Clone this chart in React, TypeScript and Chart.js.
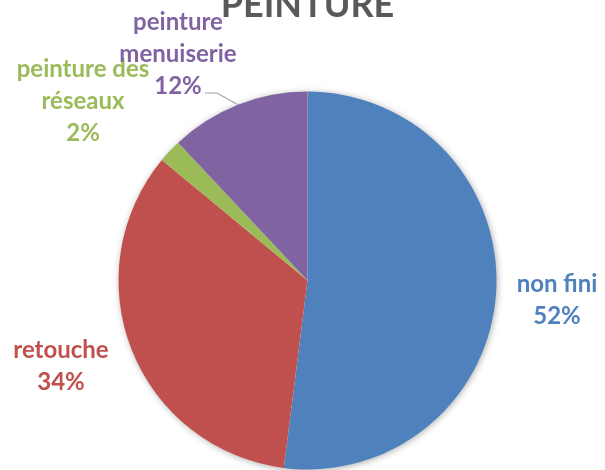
import React, { useEffect, useRef } from "react";
import { Chart, registerables } from "chart.js";

Chart.register(...registerables);

const chartTitle = "PEINTURE";
const categories = ["non fini", "retouche", "peinture des réseaux", "peinture menuiserie"];
const values = [52, 34, 2, 12];
const labelNameLines = [["non fini"], ["retouche"], ["peinture des", "réseaux"], ["peinture", "menuiserie"]];
const colors = ["#4F81BD", "#C0504D", "#9BBB59", "#8064A2"];

// label placement (centre x, first baseline y) — style only
const labelPlacement = [
  { x: 557, y: 292 },
  { x: 61, y: 358 },
  { x: 83, y: 77 },
  { x: 178, y: 30 },
];
const LINE_H = 32;
// leader line for the purple slice (elbow points)
const leader = { index: 3, elbow: { x: 217, y: 93 }, end: { x: 205, y: 93 } };

const FONT = "Lato, 'Noto Sans', sans-serif";

const piePlugin = {
  id: "pieDecor",
  beforeDatasetsDraw(chart: any) {
    const meta = chart.getDatasetMeta(0);
    const arc = meta.data[0];
    if (!arc) return;
    const { x, y, outerRadius } = arc.getProps(["x", "y", "outerRadius"], true);
    const ctx = chart.ctx;
    ctx.save();
    ctx.shadowColor = "rgba(0,0,0,0.35)";
    ctx.shadowBlur = 7;
    ctx.shadowOffsetX = 1;
    ctx.shadowOffsetY = 1;
    ctx.beginPath();
    ctx.arc(x, y, outerRadius - 0.5, 0, Math.PI * 2);
    ctx.fillStyle = "#ffffff";
    ctx.fill();
    ctx.restore();
  },
  afterDraw(chart: any) {
    const ctx = chart.ctx;
    const meta = chart.getDatasetMeta(0);
    const total = values.reduce((a, b) => a + b, 0);

    // leader line
    const la = meta.data[leader.index];
    if (la) {
      const p = la.getProps(["x", "y", "startAngle", "endAngle", "outerRadius"], true);
      const mid = (p.startAngle + p.endAngle) / 2;
      const sx = p.x + Math.cos(mid) * p.outerRadius;
      const sy = p.y + Math.sin(mid) * p.outerRadius;
      ctx.save();
      ctx.strokeStyle = "#A6A6A6";
      ctx.lineWidth = 1.2;
      ctx.beginPath();
      ctx.moveTo(sx, sy);
      ctx.lineTo(leader.elbow.x, leader.elbow.y);
      ctx.lineTo(leader.end.x, leader.end.y);
      ctx.stroke();
      ctx.restore();
    }

    // labels
    ctx.save();
    ctx.font = `bold 24px ${FONT}`;
    ctx.textAlign = "center";
    ctx.textBaseline = "alphabetic";
    values.forEach((v, i) => {
      const lines = [...labelNameLines[i], Math.round((v / total) * 100) + "%"];
      ctx.fillStyle = colors[i];
      lines.forEach((t, j) => {
        ctx.fillText(t, labelPlacement[i].x, labelPlacement[i].y + j * LINE_H);
      });
    });
    ctx.restore();

    // title
    ctx.save();
    ctx.font = `bold 36px ${FONT}`;
    ctx.fillStyle = "#595959";
    ctx.textAlign = "center";
    ctx.textBaseline = "alphabetic";
    ctx.fillText(chartTitle, 307.5, 17);
    ctx.restore();
  },
};

export default function App() {
  const ref = useRef<HTMLCanvasElement | null>(null);
  useEffect(() => {
    if (!ref.current) return;
    const chart = new Chart(ref.current, {
      type: "pie",
      data: {
        labels: categories,
        datasets: [
          {
            data: values,
            backgroundColor: colors,
            borderWidth: 0,
          },
        ],
      },
      options: {
        animation: false,
        responsive: true,
        maintainAspectRatio: false,
        layout: { padding: { left: 118.5, top: 91.5, right: 108.5, bottom: 0.5 } },
        plugins: {
          legend: { display: false },
          tooltip: { enabled: false },
          title: { display: false },
        },
      },
      plugins: [piePlugin],
    });
    return () => chart.destroy();
  }, []);
  return (
    <div style={{ position: "fixed", left: 0, top: 0, width: 605, height: 470, background: "#fff" }}>
      <canvas ref={ref} />
    </div>
  );
}
